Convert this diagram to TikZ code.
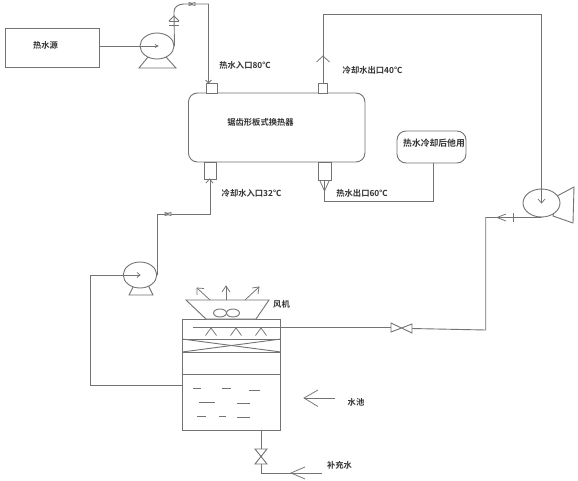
\documentclass[tikz,border=0pt]{standalone}
\usepackage{fontspec}
\usetikzlibrary{shapes.geometric}
\setmainfont{Noto Sans CJK SC}[BoldFont={Noto Sans CJK SC Bold}]
\tikzset{
  pipe/.style={draw=black!55,line width=0.9pt,line join=miter},
  equip/.style={draw=black!55,line width=0.9pt,fill=white},
  barb/.style={draw=black!55,line width=0.75pt},
  lbl/.style={font=\fontsize{8.3}{10}\selectfont\bfseries,text=black!80,inner sep=0pt},
  pumpbody/.style={equip,ellipse,inner sep=0pt}
}
\begin{document}
\begin{tikzpicture}[x=1pt,y=-1pt]
\useasboundingbox[fill=white] (0,0) rectangle (578,480);
% --- pipe routing points
\coordinate (a1) at (174,12);
\coordinate (a2) at (208.5,4);
\coordinate (b1) at (323,14);
\coordinate (b2) at (541.5,14);
\coordinate (c1) at (157,214);
\coordinate (d1) at (324.5,201);
\coordinate (d2) at (433.5,201);
\coordinate (e1) at (485.7,217.5);
\coordinate (e2) at (485.7,330);
\coordinate (f1) at (90,275);
\coordinate (f2) at (90,385);
\coordinate (g1) at (193,327.5);
\coordinate (h1) at (261,473);
\coordinate (h2) at (322,473);
\coordinate (w1) at (304,398);
\coordinate (w2) at (335,398);
% --- heat source, exchanger, user
\node[equip,minimum width=94.5pt,minimum height=39pt,inner sep=0pt] (src) at (52.2,47.5) {};
\node[lbl] at (45.5,45) {热水源};
\node[equip,rounded corners=9pt,minimum width=176.5pt,minimum height=69pt,inner sep=0pt] (hx) at (276.7,127.5) {};
\node[lbl] at (260.5,122.5) {锯齿形板式换热器};
\node[equip,rounded corners=9pt,minimum width=69pt,minimum height=32pt,inner sep=0pt] (use) at (431.5,147) {};
\node[lbl,font=\fontsize{8.8}{10}\selectfont\bfseries] at (434,143.5) {热水冷却后他用};
% --- nozzles
\node[equip,minimum width=11pt,minimum height=10pt,inner sep=0pt] (n1) at (211.5,88) {};
\node[equip,minimum width=9pt,minimum height=10pt,inner sep=0pt] (n2) at (322.5,88) {};
\node[equip,minimum width=12pt,minimum height=17pt,inner sep=0pt] (n3) at (210,170.5) {};
\node[equip,minimum width=13pt,minimum height=18pt,inner sep=0pt] (n4) at (324.5,171) {};
% --- pumps
\draw[equip] (139,68) -- (176,68) -- (166,57) -- (148,57) -- cycle;
\node[pumpbody,minimum width=34pt,minimum height=26pt] (p1) at (157,46) {};
\draw[equip] (129,295) -- (153,295) -- (148,285) -- (134,285) -- cycle;
\node[pumpbody,minimum width=33.5pt,minimum height=26pt] (p2) at (140,275) {};
\draw[equip] (553,216) -- (573,223) -- (574,187) -- (557,196) -- cycle;
\node[pumpbody,minimum width=37pt,minimum height=28pt] (p3) at (541.5,203) {};
% --- cooling tower
\node[equip,minimum width=98pt,minimum height=111pt,inner sep=0pt] (tw) at (231.5,374.5) {};
\draw[equip] (186,300) -- (269,300) -- (256,319) -- (206,319) -- cycle;
\node[equip,ellipse,minimum width=13pt,minimum height=8pt,inner sep=0pt] (f1e) at (220,313) {};
\node[equip,ellipse,minimum width=13pt,minimum height=8pt,inner sep=0pt] (f2e) at (233,313) {};
\draw[pipe] (tw.west |- 0,339) -- (tw.east |- 0,339);
\draw[pipe] (tw.west |- 0,352) -- (tw.east |- 0,352);
\draw[pipe] (tw.west |- 0,374.5) -- (tw.east |- 0,374.5);
\draw[pipe] (tw.west |- 0,339) -- (tw.east |- 0,352);
\draw[pipe] (tw.west |- 0,352) -- (tw.east |- 0,339);
% water surface dashes
\foreach \xa/\xb/\yy in {193/201/388,222/231/388.5,249/260/390,199/215/402,237/250/403.5,197/206/416,219/226/416,237/250/417}
  \draw[barb] (\xa,\yy) -- (\xb,\yy);
% spray heads
\foreach \xx in {211,236,261}
  \draw[barb] (\xx-5.5,335.5) -- (\xx,328) -- (\xx+5.5,335.5);
% exhaust arrows
\draw[barb] (210,300) -- (197,288); \draw[barb] (197,295) -- (197,288) -- (204,288.5);
\draw[barb] (226,300) -- (226,286); \draw[barb] (222,292) -- (226,286) -- (230,292);
\draw[barb] (245,300) -- (259,287); \draw[barb] (252,288) -- (259,287) -- (258,294);
% --- pipes
\draw[pipe] (src.east |- p1) -- (p1.center);
\draw[barb] (155,44.5) -- (158,46) -- (155,47.5);
\draw[pipe] (p1.east) -- (a1) .. controls (174,7) and (178,4) .. (184,4) -- (a2) -- (a2 |- n1.north);
\draw[pipe] (n2.north -| b1) -- (b1) -- (b2) -- (p3.center);
\draw[pipe] (n3.south) -- (n3.south |- c1) -- (c1) -- (c1 |- p2);
\draw[pipe] (n4.south) -- (d1) -- (d2) -- (use.south -| d2);
\draw[pipe] (p3.south) -- (p3.south |- e1) -- (e1) -- (e2) -- (412,328.5);
\draw[pipe] (391,327.5) -- (g1);
\draw[pipe] (p2.center) -- (f1) -- (f2) -- (tw.west |- f2);
\draw[pipe] (tw.south -| h1) -- (261,449);
\draw[pipe] (261,464) -- (h1) -- (h2);
\draw[pipe] (w1) -- (w2);
% --- valves
\draw[equip] (391,323) -- (412,333) -- (412,324) -- (391,332) -- cycle;
\draw[equip] (255,449) -- (267,449) -- (255,464) -- (267,464) -- cycle;
% inline fittings
\draw[equip] (189,2.5) -- (194,4) -- (189,5.5) -- cycle;
\draw[equip] (195,2.5) -- (190,4) -- (195,5.5) -- cycle;
\draw[equip] (165,212.5) -- (170,214) -- (165,215.5) -- cycle;
\draw[equip] (171,212.5) -- (166,214) -- (171,215.5) -- cycle;
% --- check symbol on outlet of pump 1
\draw[barb] (169,21) -- (174,16) -- (179,21);
\draw[barb] (169,25.5) -- (179,25.5);
\draw[barb] (169,21) -- (179,21);
% --- arrowheads on pipes
\draw[barb] (205.5,80) -- (208.5,83) -- (211.5,80);
\draw[barb] (206,183) -- (209.5,179) -- (213,183);
\draw[barb] (316.5,62) -- (323,56) -- (329.5,62);
\draw[barb] (320,181) -- (324.5,191) -- (329,181);
\draw[barb] (538,199) -- (541.5,203) -- (545,199);
\draw[barb] (137,272.5) -- (140,275) -- (137,277.5);
\draw[barb] (506,214) -- (497,217.5) -- (506,221);
\draw[barb] (513.5,213) -- (513.5,222);
\draw[barb] (318,390) -- (304,398) -- (318,406.5);
\draw[barb] (305,467) -- (291,473) -- (305,479);
% --- labels
\node[lbl] at (245,65) {热水入口80℃};
\node[lbl] at (251.5,193.5) {冷却水入口32℃};
\node[lbl] at (372.5,70) {冷却水出口40℃};
\node[lbl] at (362,193.5) {热水出口60℃};
\node[lbl] at (281.5,304) {风机};
\node[lbl] at (356,402) {水池};
\node[lbl] at (339.5,465.5) {补充水};
\end{tikzpicture}
\end{document}
